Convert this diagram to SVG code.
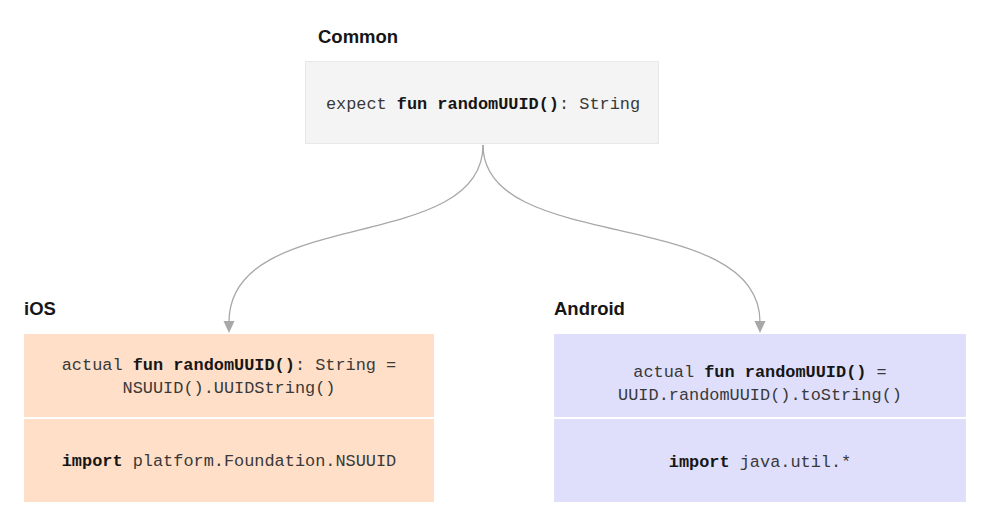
<svg xmlns="http://www.w3.org/2000/svg" width="996" height="526" viewBox="0 0 996 526">
<defs>
<style>
.title{font-family:"Liberation Sans",Arial,sans-serif;font-weight:bold;font-size:18.5px;fill:#161616}
.code{font-family:"Liberation Mono","DejaVu Sans Mono",monospace;font-size:16.9px;fill:#393939;text-anchor:middle}
.kw{font-weight:bold;fill:#161616}
.edge{fill:none;stroke:#a8a8a8;stroke-width:1.3}
.head{fill:#a8a8a8}
</style>
</defs>
<rect width="996" height="526" fill="#ffffff"/>
<g id="connectors">
<path class="edge" d="M483,145 C483,255 229,205 229,322"/>
<path class="head" d="M223.5,321 L234.5,321 L229,333 Z"/>
<path class="edge" d="M483,145 C483,255 760,205 760,322"/>
<path class="head" d="M754.5,321 L765.5,321 L760,333 Z"/>
</g>
<g id="common">
<text class="title" x="318" y="43">Common</text>
<rect x="305.5" y="61.5" width="353" height="82" fill="#f4f4f4" stroke="#e8e8e8"/>
<text class="code" x="483" y="109">expect <tspan class="kw">fun randomUUID()</tspan>: String</text>
</g>
<g id="ios">
<text class="title" x="24" y="315">iOS</text>
<rect x="24" y="334" width="410" height="83" fill="#ffdfc8"/>
<rect x="24" y="419" width="410" height="83" fill="#ffdfc8"/>
<text class="code" x="229" y="370">actual <tspan class="kw">fun randomUUID()</tspan>: String =</text>
<text class="code" x="229" y="393">NSUUID().UUIDString()</text>
<text class="code" x="229" y="466"><tspan class="kw">import</tspan> platform.Foundation.NSUUID</text>
</g>
<g id="android">
<text class="title" x="554" y="315">Android</text>
<rect x="554" y="334" width="412" height="83" fill="#dfdffc"/>
<rect x="554" y="419" width="412" height="83" fill="#dfdffc"/>
<text class="code" x="760" y="377">actual <tspan class="kw">fun randomUUID()</tspan> =</text>
<text class="code" x="760" y="400">UUID.randomUUID().toString()</text>
<text class="code" x="760" y="467"><tspan class="kw">import</tspan> java.util.*</text>
</g>
</svg>
